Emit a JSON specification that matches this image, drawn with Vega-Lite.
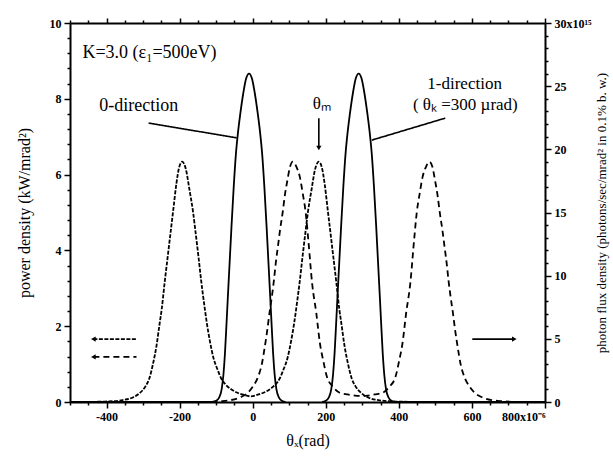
{
  "$schema": "https://vega.github.io/schema/vega-lite/v6.json",
  "width": 475,
  "height": 379,
  "autosize": {"type": "none"},
  "padding": {"left": 70, "top": 23, "right": 68, "bottom": 64},
  "background": "white",
  "config": {
    "view": {"stroke": null},
    "font": "Liberation Serif",
    "axis": {
      "domainColor": "black", "domainWidth": 2, "tickColor": "black", "tickWidth": 1.5,
      "labelColor": "black", "labelFont": "Liberation Serif", "labelFontWeight": "bold", "labelFontSize": 12,
      "titleFont": "Liberation Serif", "titleFontWeight": "normal", "titleColor": "black", "grid": false
    }
  },
  "datasets": {
    "power": [
      {"theta": -500, "pd": 0, "series": "power 0-direction"},
      {"theta": -453, "pd": 0, "series": "power 0-direction"},
      {"theta": -413, "pd": 0.01, "series": "power 0-direction"},
      {"theta": -383, "pd": 0.02, "series": "power 0-direction"},
      {"theta": -356, "pd": 0.05, "series": "power 0-direction"},
      {"theta": -328, "pd": 0.12, "series": "power 0-direction"},
      {"theta": -310, "pd": 0.23, "series": "power 0-direction"},
      {"theta": -293, "pd": 0.42, "series": "power 0-direction"},
      {"theta": -283, "pd": 0.62, "series": "power 0-direction"},
      {"theta": -273, "pd": 1.0, "series": "power 0-direction"},
      {"theta": -263, "pd": 1.5, "series": "power 0-direction"},
      {"theta": -255, "pd": 2.05, "series": "power 0-direction"},
      {"theta": -249, "pd": 2.45, "series": "power 0-direction"},
      {"theta": -241, "pd": 3.15, "series": "power 0-direction"},
      {"theta": -233, "pd": 3.8, "series": "power 0-direction"},
      {"theta": -225, "pd": 4.45, "series": "power 0-direction"},
      {"theta": -217, "pd": 5.1, "series": "power 0-direction"},
      {"theta": -209, "pd": 5.75, "series": "power 0-direction"},
      {"theta": -201, "pd": 6.2, "series": "power 0-direction"},
      {"theta": -193, "pd": 6.34, "series": "power 0-direction"},
      {"theta": -183, "pd": 6.15, "series": "power 0-direction"},
      {"theta": -173, "pd": 5.6, "series": "power 0-direction"},
      {"theta": -163, "pd": 5.0, "series": "power 0-direction"},
      {"theta": -156, "pd": 4.45, "series": "power 0-direction"},
      {"theta": -148, "pd": 3.8, "series": "power 0-direction"},
      {"theta": -141, "pd": 3.2, "series": "power 0-direction"},
      {"theta": -133, "pd": 2.6, "series": "power 0-direction"},
      {"theta": -125, "pd": 2.05, "series": "power 0-direction"},
      {"theta": -117, "pd": 1.6, "series": "power 0-direction"},
      {"theta": -107, "pd": 1.15, "series": "power 0-direction"},
      {"theta": -96, "pd": 0.85, "series": "power 0-direction"},
      {"theta": -86, "pd": 0.62, "series": "power 0-direction"},
      {"theta": -73, "pd": 0.45, "series": "power 0-direction"},
      {"theta": -58, "pd": 0.33, "series": "power 0-direction"},
      {"theta": -43, "pd": 0.25, "series": "power 0-direction"},
      {"theta": -28, "pd": 0.2, "series": "power 0-direction"},
      {"theta": -6, "pd": 0.15, "series": "power 0-direction"},
      {"theta": 16, "pd": 0.2, "series": "power 0-direction"},
      {"theta": 31, "pd": 0.25, "series": "power 0-direction"},
      {"theta": 46, "pd": 0.33, "series": "power 0-direction"},
      {"theta": 61, "pd": 0.45, "series": "power 0-direction"},
      {"theta": 74, "pd": 0.62, "series": "power 0-direction"},
      {"theta": 84, "pd": 0.85, "series": "power 0-direction"},
      {"theta": 95, "pd": 1.15, "series": "power 0-direction"},
      {"theta": 105, "pd": 1.6, "series": "power 0-direction"},
      {"theta": 113, "pd": 2.05, "series": "power 0-direction"},
      {"theta": 121, "pd": 2.6, "series": "power 0-direction"},
      {"theta": 129, "pd": 3.2, "series": "power 0-direction"},
      {"theta": 136, "pd": 3.8, "series": "power 0-direction"},
      {"theta": 144, "pd": 4.45, "series": "power 0-direction"},
      {"theta": 151, "pd": 5.0, "series": "power 0-direction"},
      {"theta": 161, "pd": 5.6, "series": "power 0-direction"},
      {"theta": 171, "pd": 6.15, "series": "power 0-direction"},
      {"theta": 181, "pd": 6.34, "series": "power 0-direction"},
      {"theta": 189, "pd": 6.2, "series": "power 0-direction"},
      {"theta": 197, "pd": 5.75, "series": "power 0-direction"},
      {"theta": 205, "pd": 5.1, "series": "power 0-direction"},
      {"theta": 213, "pd": 4.45, "series": "power 0-direction"},
      {"theta": 221, "pd": 3.8, "series": "power 0-direction"},
      {"theta": 229, "pd": 3.15, "series": "power 0-direction"},
      {"theta": 237, "pd": 2.45, "series": "power 0-direction"},
      {"theta": 243, "pd": 2.05, "series": "power 0-direction"},
      {"theta": 251, "pd": 1.5, "series": "power 0-direction"},
      {"theta": 261, "pd": 1.0, "series": "power 0-direction"},
      {"theta": 271, "pd": 0.62, "series": "power 0-direction"},
      {"theta": 281, "pd": 0.42, "series": "power 0-direction"},
      {"theta": 298, "pd": 0.23, "series": "power 0-direction"},
      {"theta": 316, "pd": 0.12, "series": "power 0-direction"},
      {"theta": 344, "pd": 0.05, "series": "power 0-direction"},
      {"theta": 371, "pd": 0.02, "series": "power 0-direction"},
      {"theta": 401, "pd": 0.01, "series": "power 0-direction"},
      {"theta": 441, "pd": 0, "series": "power 0-direction"},

      {"theta": -250, "pd": 0, "series": "power 1-direction"},
      {"theta": -130, "pd": 0, "series": "power 1-direction"},
      {"theta": -90, "pd": 0.02, "series": "power 1-direction"},
      {"theta": -60, "pd": 0.05, "series": "power 1-direction"},
      {"theta": -35, "pd": 0.12, "series": "power 1-direction"},
      {"theta": -15, "pd": 0.23, "series": "power 1-direction"},
      {"theta": 0, "pd": 0.4, "series": "power 1-direction"},
      {"theta": 15, "pd": 0.67, "series": "power 1-direction"},
      {"theta": 25, "pd": 1.0, "series": "power 1-direction"},
      {"theta": 33, "pd": 1.45, "series": "power 1-direction"},
      {"theta": 40, "pd": 1.9, "series": "power 1-direction"},
      {"theta": 46, "pd": 2.35, "series": "power 1-direction"},
      {"theta": 52, "pd": 2.75, "series": "power 1-direction"},
      {"theta": 58, "pd": 3.2, "series": "power 1-direction"},
      {"theta": 63, "pd": 3.65, "series": "power 1-direction"},
      {"theta": 69, "pd": 4.1, "series": "power 1-direction"},
      {"theta": 75, "pd": 4.55, "series": "power 1-direction"},
      {"theta": 82, "pd": 5.0, "series": "power 1-direction"},
      {"theta": 88, "pd": 5.45, "series": "power 1-direction"},
      {"theta": 95, "pd": 5.85, "series": "power 1-direction"},
      {"theta": 102, "pd": 6.2, "series": "power 1-direction"},
      {"theta": 110, "pd": 6.34, "series": "power 1-direction"},
      {"theta": 120, "pd": 6.2, "series": "power 1-direction"},
      {"theta": 129, "pd": 5.94, "series": "power 1-direction"},
      {"theta": 137, "pd": 5.5, "series": "power 1-direction"},
      {"theta": 145, "pd": 5.0, "series": "power 1-direction"},
      {"theta": 152, "pd": 4.3, "series": "power 1-direction"},
      {"theta": 163, "pd": 3.1, "series": "power 1-direction"},
      {"theta": 174, "pd": 2.35, "series": "power 1-direction"},
      {"theta": 184, "pd": 1.55, "series": "power 1-direction"},
      {"theta": 194, "pd": 1.05, "series": "power 1-direction"},
      {"theta": 203, "pd": 0.67, "series": "power 1-direction"},
      {"theta": 220, "pd": 0.4, "series": "power 1-direction"},
      {"theta": 237, "pd": 0.25, "series": "power 1-direction"},
      {"theta": 260, "pd": 0.2, "series": "power 1-direction"},
      {"theta": 280, "pd": 0.17, "series": "power 1-direction"},
      {"theta": 297, "pd": 0.16, "series": "power 1-direction"},
      {"theta": 314, "pd": 0.17, "series": "power 1-direction"},
      {"theta": 334, "pd": 0.2, "series": "power 1-direction"},
      {"theta": 357, "pd": 0.25, "series": "power 1-direction"},
      {"theta": 374, "pd": 0.4, "series": "power 1-direction"},
      {"theta": 391, "pd": 0.67, "series": "power 1-direction"},
      {"theta": 400, "pd": 1.05, "series": "power 1-direction"},
      {"theta": 410, "pd": 1.55, "series": "power 1-direction"},
      {"theta": 420, "pd": 2.35, "series": "power 1-direction"},
      {"theta": 431, "pd": 3.1, "series": "power 1-direction"},
      {"theta": 442, "pd": 4.3, "series": "power 1-direction"},
      {"theta": 449, "pd": 5.0, "series": "power 1-direction"},
      {"theta": 457, "pd": 5.5, "series": "power 1-direction"},
      {"theta": 465, "pd": 5.94, "series": "power 1-direction"},
      {"theta": 474, "pd": 6.2, "series": "power 1-direction"},
      {"theta": 484, "pd": 6.34, "series": "power 1-direction"},
      {"theta": 492, "pd": 6.2, "series": "power 1-direction"},
      {"theta": 499, "pd": 5.85, "series": "power 1-direction"},
      {"theta": 506, "pd": 5.45, "series": "power 1-direction"},
      {"theta": 512, "pd": 5.0, "series": "power 1-direction"},
      {"theta": 519, "pd": 4.55, "series": "power 1-direction"},
      {"theta": 525, "pd": 4.1, "series": "power 1-direction"},
      {"theta": 531, "pd": 3.65, "series": "power 1-direction"},
      {"theta": 536, "pd": 3.2, "series": "power 1-direction"},
      {"theta": 542, "pd": 2.75, "series": "power 1-direction"},
      {"theta": 548, "pd": 2.35, "series": "power 1-direction"},
      {"theta": 554, "pd": 1.9, "series": "power 1-direction"},
      {"theta": 561, "pd": 1.45, "series": "power 1-direction"},
      {"theta": 569, "pd": 1.0, "series": "power 1-direction"},
      {"theta": 579, "pd": 0.67, "series": "power 1-direction"},
      {"theta": 594, "pd": 0.4, "series": "power 1-direction"},
      {"theta": 609, "pd": 0.23, "series": "power 1-direction"},
      {"theta": 629, "pd": 0.12, "series": "power 1-direction"},
      {"theta": 654, "pd": 0.05, "series": "power 1-direction"},
      {"theta": 684, "pd": 0.02, "series": "power 1-direction"},
      {"theta": 724, "pd": 0, "series": "power 1-direction"}
    ],
    "flux": [
      {"theta": -500, "flux": 0, "series": "flux 0-direction"},
      {"theta": -110, "flux": 0, "series": "flux 0-direction"},
      {"theta": -100, "flux": 0.1, "series": "flux 0-direction"},
      {"theta": -92, "flux": 0.35, "series": "flux 0-direction"},
      {"theta": -85, "flux": 1.0, "series": "flux 0-direction"},
      {"theta": -80, "flux": 2.2, "series": "flux 0-direction"},
      {"theta": -76, "flux": 3.8, "series": "flux 0-direction"},
      {"theta": -72, "flux": 6.0, "series": "flux 0-direction"},
      {"theta": -68, "flux": 8.3, "series": "flux 0-direction"},
      {"theta": -63, "flux": 11.1, "series": "flux 0-direction"},
      {"theta": -58, "flux": 13.9, "series": "flux 0-direction"},
      {"theta": -52, "flux": 17.0, "series": "flux 0-direction"},
      {"theta": -46, "flux": 19.6, "series": "flux 0-direction"},
      {"theta": -40, "flux": 21.4, "series": "flux 0-direction"},
      {"theta": -34, "flux": 22.8, "series": "flux 0-direction"},
      {"theta": -26, "flux": 24.4, "series": "flux 0-direction"},
      {"theta": -18, "flux": 25.6, "series": "flux 0-direction"},
      {"theta": -10, "flux": 26.0, "series": "flux 0-direction"},
      {"theta": -2, "flux": 25.6, "series": "flux 0-direction"},
      {"theta": 6, "flux": 24.4, "series": "flux 0-direction"},
      {"theta": 14, "flux": 22.8, "series": "flux 0-direction"},
      {"theta": 20, "flux": 21.4, "series": "flux 0-direction"},
      {"theta": 26, "flux": 19.6, "series": "flux 0-direction"},
      {"theta": 32, "flux": 17.0, "series": "flux 0-direction"},
      {"theta": 38, "flux": 13.9, "series": "flux 0-direction"},
      {"theta": 43, "flux": 11.1, "series": "flux 0-direction"},
      {"theta": 48, "flux": 8.3, "series": "flux 0-direction"},
      {"theta": 52, "flux": 6.0, "series": "flux 0-direction"},
      {"theta": 56, "flux": 3.8, "series": "flux 0-direction"},
      {"theta": 60, "flux": 2.2, "series": "flux 0-direction"},
      {"theta": 65, "flux": 1.0, "series": "flux 0-direction"},
      {"theta": 72, "flux": 0.35, "series": "flux 0-direction"},
      {"theta": 80, "flux": 0.1, "series": "flux 0-direction"},
      {"theta": 90, "flux": 0, "series": "flux 0-direction"},
      {"theta": 190, "flux": 0, "series": "flux 1-direction"},
      {"theta": 200, "flux": 0.1, "series": "flux 1-direction"},
      {"theta": 208, "flux": 0.35, "series": "flux 1-direction"},
      {"theta": 215, "flux": 1.0, "series": "flux 1-direction"},
      {"theta": 220, "flux": 2.2, "series": "flux 1-direction"},
      {"theta": 224, "flux": 3.8, "series": "flux 1-direction"},
      {"theta": 228, "flux": 6.0, "series": "flux 1-direction"},
      {"theta": 232, "flux": 8.3, "series": "flux 1-direction"},
      {"theta": 237, "flux": 11.1, "series": "flux 1-direction"},
      {"theta": 242, "flux": 13.9, "series": "flux 1-direction"},
      {"theta": 248, "flux": 17.0, "series": "flux 1-direction"},
      {"theta": 254, "flux": 19.6, "series": "flux 1-direction"},
      {"theta": 260, "flux": 21.4, "series": "flux 1-direction"},
      {"theta": 266, "flux": 22.8, "series": "flux 1-direction"},
      {"theta": 274, "flux": 24.4, "series": "flux 1-direction"},
      {"theta": 282, "flux": 25.6, "series": "flux 1-direction"},
      {"theta": 290, "flux": 26.0, "series": "flux 1-direction"},
      {"theta": 298, "flux": 25.6, "series": "flux 1-direction"},
      {"theta": 306, "flux": 24.4, "series": "flux 1-direction"},
      {"theta": 314, "flux": 22.8, "series": "flux 1-direction"},
      {"theta": 320, "flux": 21.4, "series": "flux 1-direction"},
      {"theta": 326, "flux": 19.6, "series": "flux 1-direction"},
      {"theta": 332, "flux": 17.0, "series": "flux 1-direction"},
      {"theta": 338, "flux": 13.9, "series": "flux 1-direction"},
      {"theta": 343, "flux": 11.1, "series": "flux 1-direction"},
      {"theta": 348, "flux": 8.3, "series": "flux 1-direction"},
      {"theta": 352, "flux": 6.0, "series": "flux 1-direction"},
      {"theta": 356, "flux": 3.8, "series": "flux 1-direction"},
      {"theta": 360, "flux": 2.2, "series": "flux 1-direction"},
      {"theta": 365, "flux": 1.0, "series": "flux 1-direction"},
      {"theta": 372, "flux": 0.35, "series": "flux 1-direction"},
      {"theta": 380, "flux": 0.1, "series": "flux 1-direction"},
      {"theta": 390, "flux": 0, "series": "flux 1-direction"},
      {"theta": 800, "flux": 0, "series": "flux 1-direction"}
    ],
    "textsLeft": [
      {"theta": -466, "v": 9.2, "text": "K=3.0 (ε₁=500eV)"},
      {"theta": -420, "v": 7.81, "text": "0-direction"}
    ],
    "textsCenter": [
      {"theta": 189, "v": 7.86, "text": "θₘ"},
      {"theta": 580, "v": 8.4, "text": "1-direction"},
      {"theta": 582, "v": 7.84, "text": "( θₖ =300 µrad)"}
    ],
    "segments": [
      {"theta": -285, "v": 7.36, "theta2": -44, "v2": 6.97, "series": "pointer"},
      {"theta": 527, "v": 7.49, "theta2": 326, "v2": 6.91, "series": "pointer"},
      {"theta": 181, "v": 7.49, "theta2": 181, "v2": 6.75, "series": "pointer"},
      {"theta": -436, "v": 1.66, "theta2": -318, "v2": 1.66, "series": "power 0-direction"},
      {"theta": -436, "v": 1.19, "theta2": -318, "v2": 1.19, "series": "power 1-direction"},
      {"theta": 601, "v": 1.66, "theta2": 716, "v2": 1.66, "series": "flux"}
    ],
    "heads": [
      {"theta": 181, "v": 6.7, "head": "down"},
      {"theta": -436, "v": 1.66, "head": "left"},
      {"theta": -436, "v": 1.19, "head": "left"},
      {"theta": 716, "v": 1.66, "head": "right"}
    ]
  },
  "resolve": {"scale": {"y": "independent"}},
  "layer": [
    {
      "data": {"name": "power"},
      "mark": {"type": "line", "interpolate": "monotone", "color": "black", "strokeWidth": 1.8},
      "encoding": {
        "x": {
          "field": "theta", "type": "quantitative",
          "scale": {"domain": [-500, 800], "nice": false, "zero": false},
          "axis": {
            "orient": "bottom",
            "values": [-500, -450, -400, -350, -300, -250, -200, -150, -100, -50, 0, 50, 100, 150, 200, 250, 300, 350, 400, 450, 500, 550, 600, 650, 700, 750, 800],
            "labelExpr": "datum.value == 800 ? '800x10⁻⁶' : (datum.value % 200 == 0 ? '' + datum.value : '')",
            "tickSize": {"condition": {"test": "datum.value % 200 == 0", "value": 6}, "value": 3},
            "labelPadding": 3,
            "title": "θₓ(rad)", "titleFontSize": 16, "titlePadding": 10
          }
        },
        "y": {
          "field": "pd", "type": "quantitative",
          "scale": {"domain": [0, 10], "nice": false},
          "axis": {
            "orient": "left",
            "values": [0, 0.4, 0.8, 1.2, 1.6, 2, 2.4, 2.8, 3.2, 3.6, 4, 4.4, 4.8, 5.2, 5.6, 6, 6.4, 6.8, 7.2, 7.6, 8, 8.4, 8.8, 9.2, 9.6, 10],
            "labelExpr": "datum.value % 2 == 0 ? '' + datum.value : ''",
            "tickSize": {"condition": {"test": "datum.value % 2 == 0", "value": 6}, "value": 3},
            "labelPadding": 3,
            "title": "power density (kW/mrad²)", "titleFontSize": 16,
            "titleX": -46, "titleBaseline": "middle"
          }
        },
        "detail": {"field": "series"},
        "strokeDash": {
          "field": "series", "type": "nominal", "legend": null,
          "scale": {"domain": ["power 0-direction", "power 1-direction", "flux", "pointer"], "range": [[4, 1.5], [6, 4], [1, 0], [1, 0]]}
        }
      }
    },
    {
      "data": {"name": "flux"},
      "mark": {"type": "line", "interpolate": "monotone", "color": "black", "strokeWidth": 1.8},
      "encoding": {
        "x": {"field": "theta", "type": "quantitative", "axis": null},
        "y": {
          "field": "flux", "type": "quantitative",
          "scale": {"domain": [0, 30], "nice": false},
          "axis": {
            "orient": "right",
            "values": [0, 1, 2, 3, 4, 5, 6, 7, 8, 9, 10, 11, 12, 13, 14, 15, 16, 17, 18, 19, 20, 21, 22, 23, 24, 25, 26, 27, 28, 29, 30],
            "labelExpr": "datum.value == 30 ? '30x10¹⁵' : (datum.value % 5 == 0 ? '' + datum.value : '')",
            "tickSize": {"condition": {"test": "datum.value % 5 == 0", "value": 6}, "value": 3},
            "labelPadding": 3,
            "title": "photon flux density (photons/sec/mrad² in 0.1% b. w.)", "titleFontSize": 13,
            "titleX": 56, "titleAngle": -90, "titleBaseline": "middle"
          }
        },
        "detail": {"field": "series"}
      }
    },
    {
      "data": {"name": "textsLeft"},
      "mark": {"type": "text", "align": "left", "baseline": "middle", "fontSize": 18, "font": "Liberation Serif", "color": "black"},
      "encoding": {
        "x": {
          "field": "theta", "type": "quantitative",
          "axis": {
            "orient": "top",
            "values": [-500, -450, -400, -350, -300, -250, -200, -150, -100, -50, 0, 50, 100, 150, 200, 250, 300, 350, 400, 450, 500, 550, 600, 650, 700, 750, 800],
            "labels": false, "title": null,
            "tickSize": {"condition": {"test": "datum.value % 200 == 0", "value": 5}, "value": 3}
          }
        },
        "y": {"field": "v", "type": "quantitative", "scale": {"domain": [0, 10], "nice": false}, "axis": null},
        "text": {"field": "text"}
      }
    },
    {
      "data": {"name": "textsCenter"},
      "mark": {"type": "text", "align": "center", "baseline": "middle", "fontSize": 17, "font": "Liberation Serif", "color": "black"},
      "encoding": {
        "x": {"field": "theta", "type": "quantitative", "axis": null},
        "y": {"field": "v", "type": "quantitative", "scale": {"domain": [0, 10], "nice": false}, "axis": null},
        "text": {"field": "text"}
      }
    },
    {
      "data": {"name": "segments"},
      "mark": {"type": "rule", "color": "black", "strokeWidth": 1.6},
      "encoding": {
        "x": {"field": "theta", "type": "quantitative", "axis": null},
        "y": {"field": "v", "type": "quantitative", "scale": {"domain": [0, 10], "nice": false}, "axis": null},
        "x2": {"field": "theta2"},
        "y2": {"field": "v2"},
        "strokeDash": {
          "field": "series", "type": "nominal", "legend": null,
          "scale": {"domain": ["power 0-direction", "power 1-direction", "flux", "pointer"], "range": [[4, 1.5], [6, 4], [1, 0], [1, 0]]}
        }
      }
    },
    {
      "data": {"name": "heads"},
      "mark": {"type": "point", "filled": true, "color": "black", "opacity": 1, "size": 28},
      "encoding": {
        "x": {"field": "theta", "type": "quantitative", "axis": null},
        "y": {"field": "v", "type": "quantitative", "scale": {"domain": [0, 10], "nice": false}, "axis": null},
        "shape": {
          "field": "head", "type": "nominal", "legend": null,
          "scale": {"domain": ["down", "left", "right"], "range": ["triangle-down", "triangle-left", "triangle-right"]}
        }
      }
    }
  ]
}
